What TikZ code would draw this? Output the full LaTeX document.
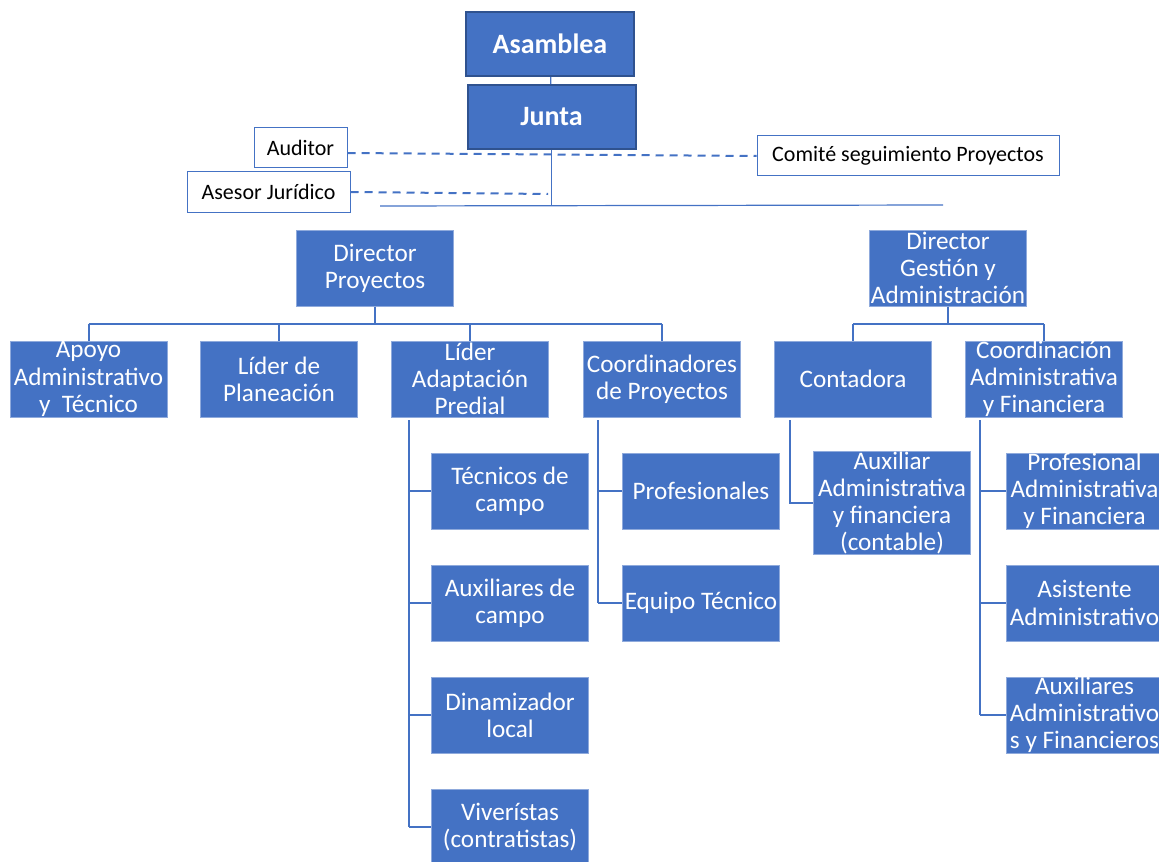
\documentclass[tikz,border=0pt]{standalone}
\usepackage{fontspec}
\setmainfont{Carlito}
\definecolor{azul}{RGB}{68,114,196}
\definecolor{borde}{RGB}{143,170,220}
\definecolor{oscuro}{RGB}{47,82,143}
\definecolor{linea}{RGB}{68,114,196}

\begin{document}
\begin{tikzpicture}[x=0.5pt,y=-0.5pt,
	cargo/.style={draw=borde, fill=azul, text=white, line width=0.5pt, inner sep=0pt,
		minimum width=78.5pt, minimum height=38pt, align=center,
		font=\fontsize{12.6}{13.6}\selectfont},
	cima/.style={draw=oscuro, fill=azul, text=white, line width=1pt, inner sep=0pt,
		minimum width=84pt, minimum height=32pt, font=\fontsize{14}{16}\selectfont\bfseries},
	asesor/.style={draw=azul, fill=white, text=black, line width=0.5pt, inner sep=0pt,
		minimum height=20pt, font=\fontsize{11}{13}\selectfont},
	conector/.style={draw=linea, line width=1pt},
	fino/.style={draw=linea, line width=0.6pt},
	enlace/.style={draw=linea, line width=1pt, dash pattern=on 4pt off 3pt}]
	
	\clip (0,0) rectangle (1159,861);
	
	\node[cima] (asamblea) at (550,44) {Asamblea};
	\node[cima] (junta) at (551.5,117) {Junta};
	\node[asesor, minimum width=46.5pt] (auditor) at (300.5,147.5) {Auditor};
	\node[asesor, minimum width=81.5pt] (juridico) at (268.5,192) {Asesor Jurídico};
	\node[asesor, minimum width=151pt] (comite) at (908,156) {Comité seguimiento Proyectos};
	
	\node[cargo] (dirproy) at (375,268) {Director\\Proyectos};
	\node[cargo] (dirgest) at (948,268) {Director\\Gestión y\\Administración};
	
	\node[cargo] (apoyo) at (88.5,379) {Apoyo\\Administrativo\\y\ \ Técnico};
	\node[cargo] (planea) at (279,379) {Líder de\\Planeación};
	\node[cargo] (adapt) at (470,379) {Líder\\Adaptación\\Predial};
	\node[cargo] (coordp) at (662,379) {Coordinadores\\de Proyectos};
	\node[cargo] (contadora) at (853,379) {Contadora};
	\node[cargo] (coordaf) at (1044,379) {Coordinación\\Administrativa\\y Financiera};
	
	\node[cargo] (tecnicos) at (510,491) {Técnicos de\\campo};
	\node[cargo] (auxcampo) at (510,603) {Auxiliares de\\campo};
	\node[cargo] (dinam) at (510,715) {Dinamizador\\local};
	\node[cargo] (viver) at (510,827) {Viverístas\\(contratistas)};
	
	\node[cargo] (profs) at (701,491) {Profesionales};
	\node[cargo] (equipo) at (701,603) {Equipo Técnico};
	
	\node[cargo, minimum height=50pt] (auxcont) at (892,503) {Auxiliar\\Administrativa\\y financiera\\(contable)};
	
	\node[cargo] (profaf) at (1084.5,491) {Profesional\\Administrativa\\y Financiera};
	\node[cargo] (asist) at (1084.5,603) {Asistente\\Administrativo};
	\node[cargo] (auxaf) at (1084.5,715) {Auxiliares\\Administrativo\\s y Financieros};
	
	\coordinate (busL) at (380,206);
	\coordinate (busR) at (943,205);
	\coordinate (finjur) at (548,194);
	\coordinate (dpbus) at (375,324);
	\coordinate (dgbus) at (948,324);
	\coordinate (adaptx) at (409,420);
	\coordinate (coordpx) at (598,420);
	\coordinate (contx) at (790,420);
	\coordinate (coordafx) at (980,420);
	
	\draw[fino] (asamblea) -- (junta);
	\draw[fino] (junta.south) -- (junta.south |- busL);
	\draw[fino] (busL) -- (busR);
	\draw[enlace] ([yshift=-2.75pt]auditor.east) -- (comite.west);
	\draw[enlace] (juridico.east) -- (finjur);
	
	\draw[conector] (dirproy.south) -- (dpbus);
	\draw[conector] (apoyo.north |- dpbus) -- (coordp.north |- dpbus);
	\foreach \n in {apoyo,planea,adapt,coordp}
		\draw[conector] (\n.north |- dpbus) -- (\n.north);
	
	\draw[conector] (dirgest.south) -- (dgbus);
	\draw[conector] (contadora.north |- dgbus) -- (coordaf.north |- dgbus);
	\foreach \n in {contadora,coordaf}
		\draw[conector] (\n.north |- dgbus) -- (\n.north);
	
	\draw[conector] (adaptx) -- (adaptx |- viver.west);
	\foreach \n in {tecnicos,auxcampo,dinam,viver}
		\draw[conector] (adaptx |- \n.west) -- (\n.west);
	
	\draw[conector] (coordpx) -- (coordpx |- equipo.west);
	\foreach \n in {profs,equipo}
		\draw[conector] (coordpx |- \n.west) -- (\n.west);
	
	\draw[conector] (contx) |- (auxcont.west);
	
	\draw[conector] (coordafx) -- (coordafx |- auxaf.west);
	\foreach \n in {profaf,asist,auxaf}
		\draw[conector] (coordafx |- \n.west) -- (\n.west);
	
\end{tikzpicture}
\end{document}
